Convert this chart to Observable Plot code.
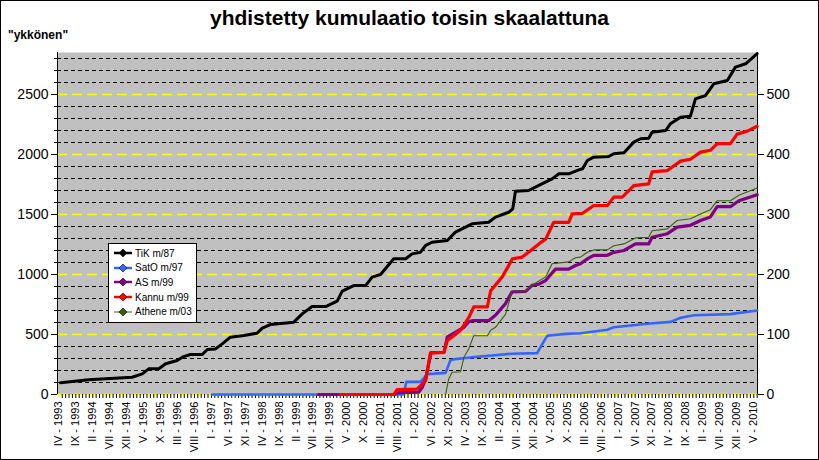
<!DOCTYPE html>
<html>
<head>
<meta charset="utf-8">
<script src="https://cdn.jsdelivr.net/npm/d3@7"></script>
<script src="https://cdn.jsdelivr.net/npm/@observablehq/plot@0.6"></script>
<style>
  html, body { margin: 0; padding: 0; background: #fff; }
  #wrap { position: relative; width: 819px; height: 460px; overflow: hidden; font-family: "Liberation Sans", Arial, sans-serif; }
  #border { position: absolute; left: 0; top: 0; width: 819px; height: 460px; box-sizing: border-box; border: 1px solid #000; pointer-events: none; }
  #title { position: absolute; left: 0; width: 819px; top: 6px; text-align: center; font-weight: bold; font-size: 21px; color: #000; }
  #ylab { position: absolute; left: 8px; top: 28px; font-weight: bold; font-size: 12px; color: #000; }
  #legend { position: absolute; left: 108px; top: 243px; width: 89px; height: 80px; box-sizing: border-box; border: 1px solid #000; background: #fff; font-size: 10px; padding-top: 2px; white-space: nowrap; }
  .li { display: flex; align-items: center; height: 14.6px; }
  .li svg { margin-left: 5px; margin-right: 3px; flex: none; }
</style>
</head>
<body>
<div id="wrap">
  <div id="chart"></div>
  <div id="title">yhdistetty kumulaatio toisin skaalattuna</div>
  <div id="ylab">"ykkönen"</div>
  <div id="legend"></div>
  <div id="border"></div>
</div>
<script>
// ---- data (month index: 0 = IV-1993) ----
const seriesNames = ["TiK m/87", "SatO m/97", "AS m/99", "Kannu m/99", "Athene m/03"];
const seriesColors = ["#000000", "#3366ff", "#800080", "#ff0000", "#3a5f0b"];
const RIGHT_FACTOR = 5; // right axis = left / 5

// TiK on left axis ("ykkönen")
const tik = [[-0.5,97],[7.8,122],[20.6,144],[23.6,172],[25.5,214],[28.5,214],[30.5,256],[33.9,283],[35.4,311],[37.8,333],[41.3,333],[42.8,375],[45.2,380],[47.2,422],[49.6,478],[53.6,492],[57.5,511],[59,553],[61.4,583],[68.3,603],[70.8,672],[73.7,733],[77.7,733],[81.1,778],[82.6,861],[86,908],[89.5,908],[91.4,978],[93.9,1000],[97.8,1131],[101.3,1131],[103.2,1172],[105.7,1186],[107.2,1242],[109.1,1269],[113.6,1283],[116,1353],[120.9,1422],[125.8,1436],[127.8,1478],[131.7,1519],[132.9,1547],[133.7,1694],[137.6,1700],[140.6,1742],[144.5,1797],[146.5,1839],[149.4,1839],[152.4,1872],[153.5,1881],[154.9,1950],[156.8,1978],[161.2,1983],[162.7,2006],[165.7,2014],[168.6,2103],[170.6,2131],[173,2136],[174,2186],[178,2200],[179.4,2256],[182.4,2311],[185.3,2319],[186.8,2464],[189.8,2492],[192.2,2589],[196.2,2617],[198.6,2728],[201.6,2756],[205,2840]];
// others on right axis
const sato = [[44.2,0],[100.7,0],[101.5,21],[105.7,21],[107.7,34],[113.1,36],[114.5,57],[116,59],[120.9,62],[132.7,68],[140.1,69],[141.6,84],[143.1,98],[148.5,101],[152.9,102],[160.8,108],[162.7,112],[172.6,118],[179.5,121],[182.4,128],[186.3,132],[197.1,134],[205,140]];
const as = [[75.6,0],[98,0],[99,3],[105.2,4],[106.2,12],[107.2,26],[108.1,51],[108.8,70],[112.6,70],[113.6,96],[118.5,112],[119.9,121],[120.9,123],[125.8,123],[127.8,132],[130.7,151],[132.7,171],[136.7,172],[138.6,182],[140.6,184],[142.6,190],[145.5,209],[149.4,209],[151.4,215],[152.9,218],[154.9,226],[156.8,232],[160.8,232],[162.7,237],[165.7,240],[169.1,251],[173,251],[174,262],[178.5,268],[181.4,279],[185.3,282],[188.3,290],[191.2,296],[193.2,313],[197.1,313],[199.6,323],[205,333]];
const kannu = [[82,0],[97.8,0],[98.8,8],[104.7,9],[105.2,12],[107.2,23],[108.6,69],[112.6,70],[113.6,90],[115.5,98],[117.5,107],[120,129],[121.4,146],[125.4,146],[126.4,173],[129.8,196],[132.8,226],[135.7,229],[138.2,240],[140.6,251],[142.6,259],[145,287],[149.4,287],[150.4,301],[153.5,302],[156.8,315],[160.8,315],[162.7,329],[165.2,329],[168.6,348],[173,351],[174,371],[178.4,373],[182.4,389],[185.3,392],[188.3,404],[191.2,407],[193.2,418],[197.1,418],[199.1,434],[202.1,439],[205,447]];
const athene = [[113.1,0],[114,26],[115,37],[117.5,38],[118.5,62],[119.9,76],[121.4,98],[125.4,98],[126.4,107],[127.8,112],[130.8,134],[132.7,172],[136.7,173],[138.6,182],[142.6,196],[144.5,218],[149.4,221],[151.4,228],[152.9,229],[154.9,237],[156.8,241],[160.8,241],[162.7,248],[165.7,251],[169.1,261],[173,262],[174,273],[178.5,276],[181.4,290],[185.3,293],[188.3,301],[191.2,308],[193.2,323],[197.1,323],[199.6,332],[205,344]];

const xLabels = ["IV - 1993","IX - 1993","II - 1994","VII - 1994","XII - 1994","V - 1995","X - 1995","III - 1996","VIII - 1996","I - 1997","VI - 1997","XI - 1997","IV - 1998","IX - 1998","II - 1999","VII - 1999","XII - 1999","V - 2000","X - 2000","III - 2001","VIII - 2001","I - 2002","VI - 2002","XI - 2002","IV - 2003","IX - 2003","II - 2004","VII - 2004","XII - 2004","V - 2005","X - 2005","III - 2006","VIII - 2006","I - 2007","VI - 2007","XI - 2007","IV - 2008","IX - 2008","II - 2009","VII - 2009","XII - 2009","V - 2010"];
const labelStep = 5; // months between labels
const leftTicks = [0, 500, 1000, 1500, 2000, 2500];
const rightTicks = [0, 100, 200, 300, 400, 500];
const gridStep = 100;
const yMax = 2850;
const xDomain = [-1.4, 205.1];

// ---- build ----
const labelMonths = xLabels.map((_, i) => i * labelStep);
const monthTicks = d3.range(0, 206);
const gridAll = d3.range(0, 2801, gridStep);
const gridMinor = gridAll.filter(d => d % 500 !== 0);
const gridMajor = gridAll.filter(d => d % 500 === 0);

const rows = [];
const add = (arr, name, f) => arr.forEach(([m, v]) => rows.push({series: name, m, v: v * f}));
add(tik, seriesNames[0], 1);
add(sato, seriesNames[1], RIGHT_FACTOR);
add(as, seriesNames[2], RIGHT_FACTOR);
add(kannu, seriesNames[3], RIGHT_FACTOR);
add(athene, seriesNames[4], RIGHT_FACTOR);

const widths = {"TiK m/87": 3, "SatO m/97": 2.6, "AS m/99": 3.2, "Kannu m/99": 3.2, "Athene m/03": 1.1};

const lineMarks = seriesNames.map((name, i) =>
  Plot.line(rows.filter(r => r.series === name), {
    x: "m", y: "v", stroke: seriesColors[i], strokeWidth: widths[name], strokeLinejoin: "round"
  })
);

const chart = Plot.plot({
  width: 819,
  height: 460,
  marginLeft: 57,
  marginRight: 62,
  marginTop: 52,
  marginBottom: 66,
  style: {fontFamily: "'Liberation Sans', Arial, sans-serif", background: "transparent", color: "#000"},
  x: {domain: xDomain, axis: null, label: null},
  y: {domain: [0, yMax], axis: null, label: null},
  marks: [
    Plot.frame({fill: "#c0c0c0", stroke: null}),
    Plot.ruleY(gridMinor, {stroke: "#000", strokeWidth: 1, strokeDasharray: "4,3"}),
    Plot.ruleY(gridMajor, {stroke: "#ffff00", strokeWidth: 1.6, strokeDasharray: "10,5"}),
    Plot.ruleX([xDomain[0], xDomain[1]], {stroke: "#000", strokeWidth: 1}),
    Plot.axisY(gridAll, {anchor: "left", tickSize: 3, tickFormat: () => "", label: null}),
    Plot.axisY(leftTicks, {anchor: "left", tickSize: 6, tickPadding: 3, fontSize: 14, tickFormat: d => String(d), label: null}),
    Plot.axisY(rightTicks.map(d => d * RIGHT_FACTOR), {anchor: "right", tickSize: 6, tickPadding: 3, fontSize: 14, tickFormat: d => String(d / RIGHT_FACTOR), label: null}),
    Plot.axisX(monthTicks, {anchor: "bottom", tickSize: 4, tickFormat: () => "", label: null}),
    Plot.text(labelMonths, {x: d => d, text: (d, i) => xLabels[i], frameAnchor: "bottom", rotate: -90, textAnchor: "end", dy: 7, fontSize: 11}),
    ...lineMarks
  ]
});
document.getElementById("chart").appendChild(chart);

// legend
const leg = document.getElementById("legend");
seriesNames.forEach((name, i) => {
  const row = document.createElement("div");
  row.className = "li";
  const c = seriesColors[i];
  row.innerHTML = `<svg width="18" height="10"><line x1="0" y1="5" x2="18" y2="5" stroke="${c}" stroke-width="${name.startsWith('Athene') ? 1 : 2.5}"/><path d="M9,1 L13,5 L9,9 L5,5 Z" fill="${c}" stroke="${i===0?c:'#000'}" stroke-width="0.6"/></svg><span>${name}</span>`;
  leg.appendChild(row);
});
</script>
</body>
</html>
